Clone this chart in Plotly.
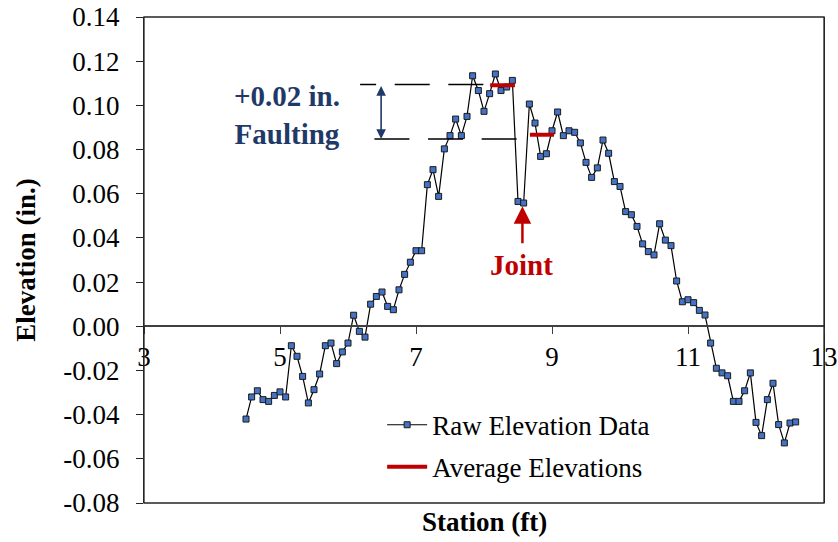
import plotly.graph_objects as go

# ---------------- data ----------------
station = [
    4.500, 4.583, 4.667, 4.750, 4.833, 4.917, 5.000, 5.083, 5.167, 5.250,
    5.333, 5.417, 5.500, 5.583, 5.667, 5.750, 5.833, 5.917, 6.000, 6.083,
    6.167, 6.250, 6.333, 6.417, 6.500, 6.583, 6.667, 6.750, 6.833, 6.917,
    7.000, 7.083, 7.167, 7.250, 7.333, 7.417, 7.500, 7.583, 7.667, 7.750,
    7.833, 7.917, 8.000, 8.083, 8.167, 8.250, 8.333, 8.417, 8.500, 8.583,
    8.667, 8.750, 8.833, 8.917, 9.000, 9.083, 9.167, 9.250, 9.333, 9.417,
    9.500, 9.583, 9.667, 9.750, 9.833, 9.917, 10.000, 10.083, 10.167, 10.250,
    10.333, 10.417, 10.500, 10.583, 10.667, 10.750, 10.833, 10.917, 11.000, 11.083,
    11.167, 11.250, 11.333, 11.417, 11.500, 11.583, 11.667, 11.750, 11.833, 11.917,
    12.000, 12.083, 12.167, 12.250, 12.333, 12.417, 12.500, 12.583,
]

elevation = [
    -0.0420, -0.0320, -0.0292, -0.0332, -0.0340, -0.0313, -0.0297, -0.0320, -0.0088, -0.0136,
    -0.0227, -0.0347, -0.0287, -0.0216, -0.0088, -0.0076, -0.0169, -0.0116, -0.0076, 0.0050,
    -0.0023, -0.0049, 0.0100, 0.0135, 0.0155, 0.0090, 0.0075, 0.0165, 0.0235, 0.0290,
    0.0342, 0.0342, 0.0641, 0.0709, 0.0588, 0.0803, 0.0863, 0.0938, 0.0863, 0.0950,
    0.1134, 0.1067, 0.0973, 0.1053, 0.1142, 0.1067, 0.1083, 0.1113, 0.0565, 0.0558,
    0.1006, 0.0920, 0.0769, 0.0781, 0.0885, 0.0970, 0.0863, 0.0885, 0.0878, 0.0830,
    0.0742, 0.0674, 0.0717, 0.0843, 0.0783, 0.0655, 0.0633, 0.0519, 0.0505, 0.0452,
    0.0373, 0.0338, 0.0323, 0.0464, 0.0390, 0.0365, 0.0205, 0.0111, 0.0120, 0.0107,
    0.0072, 0.0051, -0.0076, -0.0190, -0.0211, -0.0224, -0.0340, -0.0340, -0.0292, -0.0211,
    -0.0435, -0.0495, -0.0332, -0.0258, -0.0445, -0.0528, -0.0438, -0.0433,
]

avg_station = [8.09, 8.455, None, 8.675, 9.03]
avg_elevation = [0.1091, 0.1091, None, 0.0867, 0.0867]

x_tick_values = [3, 5, 7, 9, 11, 13]
x_tick_labels = ["3", "5", "7", "9", "11", "13"]
y_tick_values = [-0.08, -0.06, -0.04, -0.02, 0.00, 0.02, 0.04, 0.06, 0.08, 0.10, 0.12, 0.14]
y_tick_labels = ["-0.08", "-0.06", "-0.04", "-0.02", "0.00", "0.02", "0.04", "0.06",
                 "0.08", "0.10", "0.12", "0.14"]

upper_level = 0.1094
lower_level = 0.0848

FONT = "Liberation Serif"
NAVY = "#1F3A68"
RED = "#C00000"

fig = go.Figure()
fig.add_trace(go.Scatter(
    x=station, y=elevation, mode="lines+markers", name="Raw Elevation Data",
    line=dict(color="black", width=1.2),
    marker=dict(symbol="square", size=6, color="#4472C4", line=dict(color="#1a1a1a", width=1)),
    legendgroup="a",
))
fig.add_trace(go.Scatter(
    x=avg_station, y=avg_elevation, mode="lines", name="Average Elevations",
    line=dict(color=RED, width=4), legendgroup="b",
))

fig.update_layout(
    width=838, height=542,
    margin=dict(l=143.5, r=13.5, t=17.3, b=38.7),
    paper_bgcolor="white", plot_bgcolor="white",
    font=dict(family=FONT, color="black", size=27),
    showlegend=True,
    legend=dict(x=0.3502, y=0.2105, xanchor="left", yanchor="top", itemwidth=40,
                font=dict(family=FONT, size=27, color="black"),
                bgcolor="rgba(0,0,0,0)", tracegroupgap=4),
    xaxis=dict(range=[3, 13], anchor="free", position=0.3636, automargin=False,
               showline=True, linecolor="#404040", linewidth=1.5,
               ticks="outside", ticklen=7, tickwidth=1.3, tickcolor="#404040",
               tickvals=x_tick_values, ticktext=x_tick_labels,
               tickfont=dict(family=FONT, size=27, color="black"),
               showgrid=False, zeroline=False),
    yaxis=dict(range=[-0.08, 0.14], automargin=False, showline=True, mirror=True,
               linecolor="#262626", linewidth=1.3,
               ticks="outside", ticklen=7, tickwidth=1.3, tickcolor="#262626",
               tickvals=y_tick_values, ticktext=y_tick_labels,
               tickfont=dict(family=FONT, size=27, color="black"),
               ticklabelstandoff=11,
               showgrid=False, zeroline=False,
               title=dict(text="<b>Elevation (in.)</b>", font=dict(family=FONT, size=27),
                          standoff=19)),
)

# frame
fig.add_shape(type="rect", xref="paper", yref="paper", x0=0, y0=0, x1=1, y1=1,
              line=dict(color="#262626", width=1.3))

# dashed reference lines (drawn right to left)
fig.add_shape(type="line", xref="x", yref="y", x0=7.99, x1=6.178, y0=upper_level, y1=upper_level,
              line=dict(color="black", width=1.5, dash="35px,18.6px"))
fig.add_shape(type="line", xref="x", yref="y", x0=8.48, x1=6.385, y0=lower_level, y1=lower_level,
              line=dict(color="black", width=1.5, dash="35px,18.6px"))

# double arrow
fig.add_annotation(x=6.487, y=lower_level, ax=6.487, ay=upper_level, xref="x", yref="y",
                   axref="x", ayref="y", text="", showarrow=True,
                   arrowhead=2, startarrowhead=2, arrowside="end+start",
                   arrowsize=1.2, startarrowsize=1.2, arrowwidth=1.6, arrowcolor=NAVY)
fig.add_annotation(x=5.107, y=0.0957, xref="x", yref="y", showarrow=False,
                   text="<b>+0.02 in.<br>Faulting</b>",
                   font=dict(family=FONT, size=29, color=NAVY), align="center")

# joint arrow
fig.add_annotation(x=8.565, y=0.0543, ax=8.565, ay=0.0369, xref="x", yref="y",
                   axref="x", ayref="y", text="", showarrow=True,
                   arrowhead=2, arrowsize=1.4, arrowwidth=2.5, arrowcolor=RED)
fig.add_annotation(x=8.557, y=0.0279, xref="x", yref="y", showarrow=False,
                   text="<b>Joint</b>", font=dict(family=FONT, size=29, color=RED))

# x-axis title at bottom
fig.add_annotation(x=0.5, y=0, xref="paper", yref="paper", yanchor="top", yshift=-2,
                   showarrow=False, text="<b>Station (ft)</b>",
                   font=dict(family=FONT, size=27, color="black"))

fig.write_html("out.html")
